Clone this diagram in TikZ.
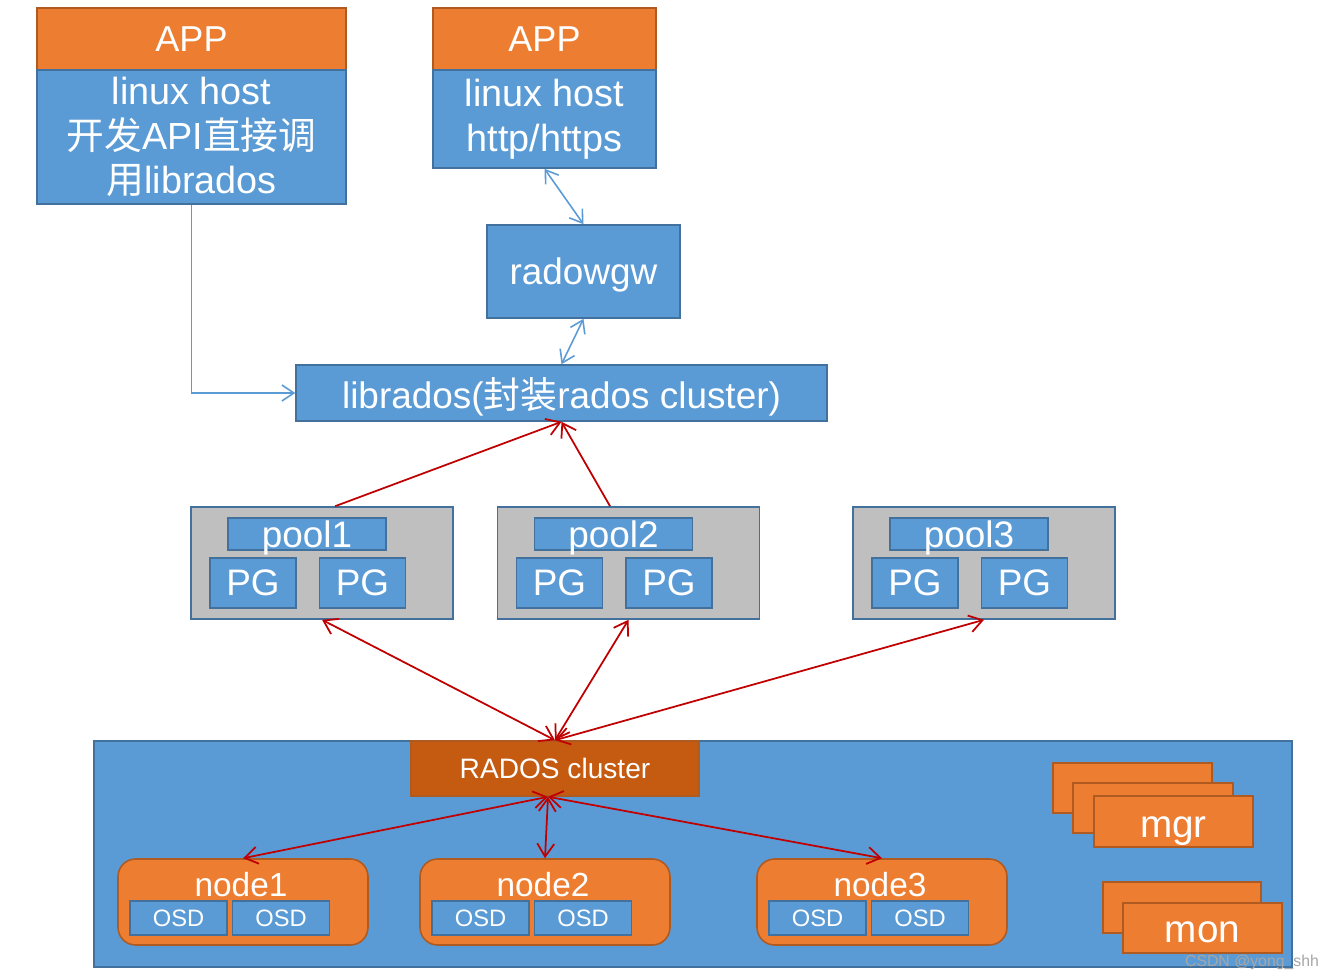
\documentclass[tikz,border=0pt]{standalone}
\usepackage{fontspec}
\setmainfont{Liberation Sans}
\newfontfamily\cjk{Noto Sans CJK SC}
\usetikzlibrary{arrows.meta}
\definecolor{appor}{HTML}{ED7D31}
\definecolor{hostbl}{HTML}{5B9BD5}
\definecolor{edgebl}{HTML}{41719C}
\definecolor{edgeor}{HTML}{AE5A21}
\definecolor{poolgr}{HTML}{BFBFBF}
\definecolor{radosor}{HTML}{C55A11}
\definecolor{linkred}{HTML}{C00000}

\begin{document}
\begin{tikzpicture}[x=0.02cm,y=-0.02cm,
    bluebox/.style={draw=edgebl,fill=hostbl,line width=0.9pt,text=white,inner sep=0pt},
    orbox/.style={draw=edgeor,fill=appor,line width=0.9pt,text=white,inner sep=0pt},
    poolbox/.style={draw=edgebl,fill=poolgr,line width=0.9pt,inner sep=0pt},
    txt/.style={text=white,inner sep=0pt},
    bluelink/.style={draw=hostbl,line width=0.9pt,{Straight Barb[length=2.4mm,width=3.2mm]}-{Straight Barb[length=2.4mm,width=3.2mm]}},
    redlink/.style={draw=linkred,line width=1pt,{Straight Barb[length=2.6mm,width=3.4mm]}-{Straight Barb[length=2.6mm,width=3.4mm]}}]

	\useasboundingbox (0,0) rectangle (1322,980);

	% clients
	\node[orbox,minimum width=6.18cm,minimum height=1.24cm,font=\fontsize{20.5}{24}\selectfont] (app1) at (191.5,39) {APP};
	\node[bluebox,minimum width=6.18cm,minimum height=2.68cm,align=center,font=\fontsize{21.5}{25.5}\selectfont] (host1) at (191.5,137) {linux host\\{\cjk 开发}API{\cjk 直接调}\\{\cjk 用}librados};
	\node[orbox,minimum width=4.46cm,minimum height=1.24cm,font=\fontsize{20.5}{24}\selectfont] (app2) at (544.5,39) {APP};
	\node[bluebox,minimum width=4.46cm,minimum height=1.96cm,align=center,font=\fontsize{21.5}{25.5}\selectfont] (host2) at (544.5,119) {linux host\\http/https};
	\node[bluebox,minimum width=3.86cm,minimum height=1.86cm,text depth=0pt,font=\fontsize{21}{24}\selectfont] (radowgw) at (583.5,271.5) {radowgw};
	\node[bluebox,minimum width=10.62cm,minimum height=1.12cm,text depth=0pt,font=\fontsize{21}{24}\selectfont] (librados) at (561.5,393) {librados({\cjk 封装}rados cluster)};

	% pools
	\foreach \p/\x in {1/322,2/628.5,3/984}{
		\node[poolbox,minimum width=5.24cm,minimum height=2.24cm] (pool\p) at (\x,563) {};
		\node[bluebox,minimum width=3.16cm,minimum height=0.64cm,text depth=0pt,font=\fontsize{21}{23}\selectfont] (pool\p t) at (\x-15,534) {pool\p};
		\node[bluebox,minimum width=1.72cm,minimum height=1.0cm,font=\fontsize{21}{24}\selectfont] (pg\p a) at (\x-69,583) {PG};
		\node[bluebox,minimum width=1.72cm,minimum height=1.0cm,font=\fontsize{21}{24}\selectfont] (pg\p b) at (\x+40.5,583) {PG};
	}

	% cluster
	\node[bluebox,minimum width=23.96cm,minimum height=4.52cm] (cluster) at (693,854) {};
	\node[draw=edgeor,fill=radosor,line width=0.9pt,text=white,minimum width=5.76cm,minimum height=1.1cm,font=\fontsize{16}{18}\selectfont] (rados) at (555,768.5) {RADOS cluster};
	\foreach \n/\x in {1/243,2/545,3/882}{
		\node[orbox,rounded corners=10pt,minimum width=5.0cm,minimum height=1.72cm] (node\n) at (\x,902) {};
		\node[txt,font=\fontsize{19}{21}\selectfont] (node\n t) at (\x-2,885) {node\n};
		\node[bluebox,minimum width=1.94cm,minimum height=0.68cm,font=\fontsize{13.5}{15}\selectfont] (osd\n a) at (\x-64.5,918) {OSD};
		\node[bluebox,minimum width=1.94cm,minimum height=0.68cm,font=\fontsize{13.5}{15}\selectfont] (osd\n b) at (\x+38,918) {OSD};
	}
	\node[orbox,minimum width=3.18cm,minimum height=1.0cm] (mgra) at (1132.5,788) {};
	\node[orbox,minimum width=3.2cm,minimum height=1.0cm] (mgrb) at (1153,808) {};
	\node[orbox,minimum width=3.18cm,minimum height=1.02cm,text height=18pt,text depth=0pt,font=\fontsize{22}{24}\selectfont] (mgr) at (1173.5,821.5) {mgr};
	\node[orbox,minimum width=3.16cm,minimum height=1.02cm] (mona) at (1182,907.5) {};
	\node[orbox,minimum width=3.18cm,minimum height=1.0cm,text height=17pt,text depth=0pt,font=\fontsize{22}{24}\selectfont] (mon) at (1202.5,928) {mon};

	% links
	\draw[bluelink] (host2.south) -- (radowgw.north);
	\draw[bluelink] (radowgw.south) -- (librados.north);
	\draw[bluelink,-{Straight Barb[length=2.4mm,width=3.2mm]}] (host1.south) |- (librados.west);
	\draw[redlink,-{Straight Barb[length=2.6mm,width=3.4mm]}] (pool1.77) -- (librados.south);
	\draw[redlink,-{Straight Barb[length=2.6mm,width=3.4mm]}] (pool2.108) -- (librados.south);
	\foreach \p in {1,2,3}
		\draw[redlink] (pool\p.south) -- (rados.north);
	\foreach \n in {1,2,3}
		\draw[redlink] ([xshift=-0.14cm]rados.south) -- (node\n.north);

	\node[text=gray!70,inner sep=0pt,font=\fontsize{9}{10}\selectfont] (mark) at (1252,962) {CSDN @yong\_shh};

\end{tikzpicture}
\end{document}
